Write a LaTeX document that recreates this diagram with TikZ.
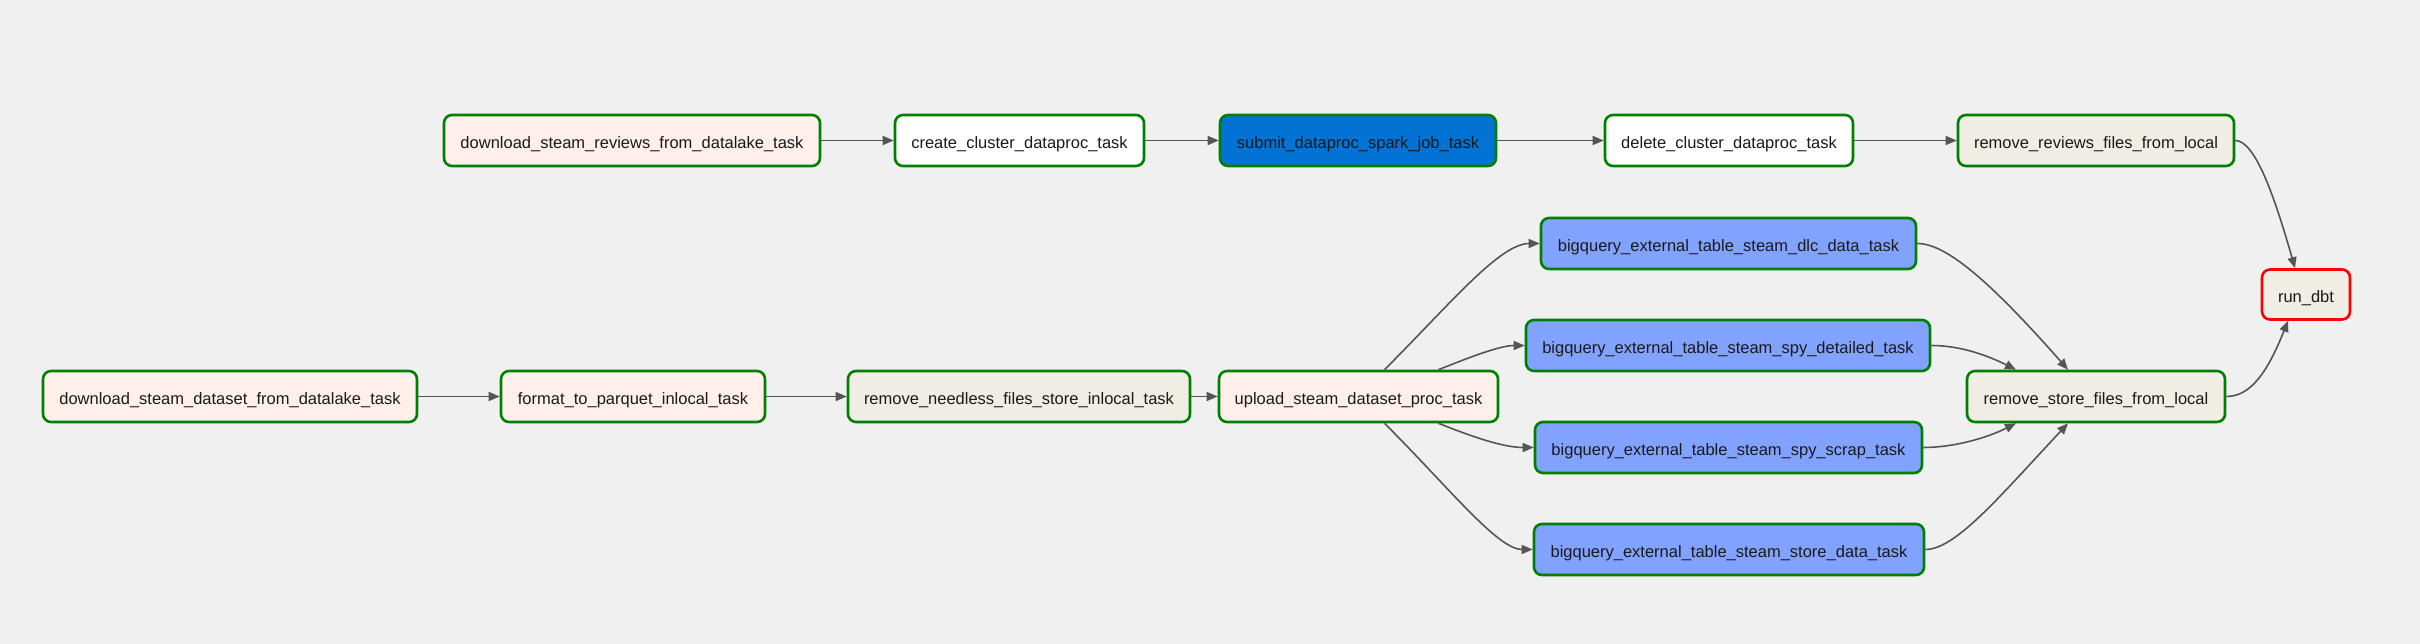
\documentclass[tikz,border=0pt]{standalone}
\usepackage{fontspec}
\setmainfont{Liberation Sans}
\usetikzlibrary{arrows.meta}
\definecolor{bg}{HTML}{F0F0F0}
\definecolor{okgreen}{HTML}{008000}
\definecolor{pinkfill}{HTML}{FFEFEB}
\definecolor{beigefill}{HTML}{F0EDE4}
\definecolor{bqfill}{HTML}{82A2FF}
\definecolor{dpfill}{HTML}{0273D4}
\definecolor{edgecol}{HTML}{555555}
\definecolor{txt}{HTML}{1A1A1A}
\tikzset{
  task/.style={draw=okgreen, line width=2.6pt, rounded corners=8pt, inner sep=0pt,
    minimum height=51pt, text=txt, font=\fontsize{16.5}{20}\selectfont,
    text height=16.5pt, text depth=0pt},
  pinkt/.style={task, fill=pinkfill},
  whitet/.style={task, fill=white},
  beiget/.style={task, fill=beigefill},
  bqt/.style={task, fill=bqfill},
  dpt/.style={task, fill=dpfill},
  edge/.style={draw=edgecol, line width=1.6pt, -{Triangle[length=11pt,width=9pt]}},
}
\begin{document}
\begin{tikzpicture}[x=1pt,y=-1pt]
\fill[bg] (0,0) rectangle (2420,644);
\useasboundingbox (0,0) rectangle (2420,644);
% row 1
\node[pinkt, minimum width=376pt] (dsr) at (632,140.5) {download\_steam\_reviews\_from\_datalake\_task};
\node[whitet, minimum width=249pt] (ccd) at (1019.5,140.5) {create\_cluster\_dataproc\_task};
\node[dpt, minimum width=276pt] (sub) at (1358,140.5) {submit\_dataproc\_spark\_job\_task};
\node[whitet, minimum width=248pt] (del) at (1729,140.5) {delete\_cluster\_dataproc\_task};
\node[beiget, minimum width=276pt] (rrf) at (2096,140.5) {remove\_reviews\_files\_from\_local};
% main row
\node[pinkt, minimum width=374pt] (dsd) at (230,396.5) {download\_steam\_dataset\_from\_datalake\_task};
\node[pinkt, minimum width=264pt] (ftp) at (633,396.5) {format\_to\_parquet\_inlocal\_task};
\node[beiget, minimum width=342pt] (rnf) at (1019,396.5) {remove\_needless\_files\_store\_inlocal\_task};
\node[pinkt, minimum width=279pt] (usd) at (1358.5,396.5) {upload\_steam\_dataset\_proc\_task};
\node[beiget, minimum width=258pt] (rsf) at (2096,396.5) {remove\_store\_files\_from\_local};
% bigquery
\node[bqt, minimum width=375pt] (dlc) at (1728.5,243.5) {bigquery\_external\_table\_steam\_dlc\_data\_task};
\node[bqt, minimum width=404pt] (det) at (1728,345.5) {bigquery\_external\_table\_steam\_spy\_detailed\_task};
\node[bqt, minimum width=387pt] (scr) at (1728.5,447.5) {bigquery\_external\_table\_steam\_spy\_scrap\_task};
\node[bqt, minimum width=390pt] (sto) at (1729,549.5) {bigquery\_external\_table\_steam\_store\_data\_task};
% run_dbt
\node[beiget, draw=red, minimum width=88pt, minimum height=50pt] (dbt) at (2306,294.5) {run\_dbt};
% straight edges
\draw[edge] (dsr.east) -- (ccd.west);
\draw[edge] (ccd.east) -- (sub.west);
\draw[edge] (sub.east) -- (del.west);
\draw[edge] (del.east) -- (rrf.west);
\draw[edge] (dsd.east) -- (ftp.west);
\draw[edge] (ftp.east) -- (rnf.west);
\draw[edge] (rnf.east) -- (usd.west);
% fan out
\draw[edge] ([xshift=26pt]usd.north) .. controls +(65,-65) and +(-40,0) .. (dlc.west);
\draw[edge] ([xshift=80pt]usd.north) .. controls +(30,-12) and +(-25,0) .. (det.west);
\draw[edge] ([xshift=80pt]usd.south) .. controls +(35,14) and +(-30,0) .. (scr.west);
\draw[edge] ([xshift=26pt]usd.south) .. controls +(65,65) and +(-35,0) .. (sto.west);
% fan in
\draw[edge] (dlc.east) .. controls +(30,0) and +(-75,-85) .. ([xshift=-28pt]rsf.north);
\draw[edge] (det.east) .. controls +(28,0) and +(-30,-15) .. ([xshift=-80pt]rsf.north);
\draw[edge] (scr.east) .. controls +(30,0) and +(-30,15) .. ([xshift=-80pt]rsf.south);
\draw[edge] (sto.east) .. controls +(30,0) and +(-70,75) .. ([xshift=-28pt]rsf.south);
% to run_dbt
\draw[edge] (rsf.east) .. controls +(25,0) and +(-20,50) .. ([xshift=-18pt]dbt.south);
\draw[edge] (rrf.east) .. controls +(20,0) and +(-20,-70) .. ([xshift=-11pt]dbt.north);
\end{tikzpicture}
\end{document}
